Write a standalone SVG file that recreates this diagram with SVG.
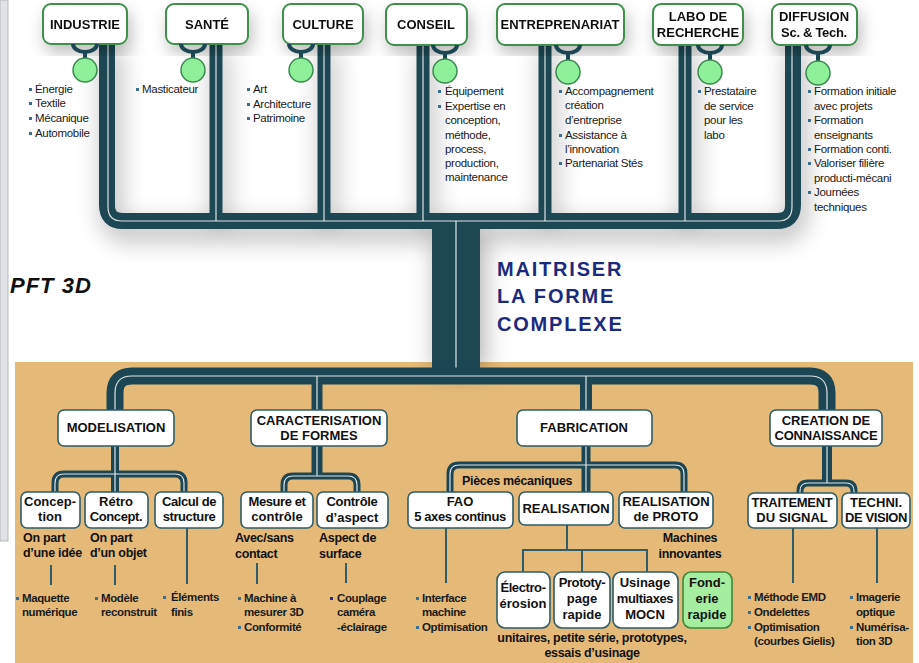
<svg xmlns="http://www.w3.org/2000/svg" width="919" height="663" viewBox="0 0 919 663">
<defs>
<filter id="sh" x="-15%" y="-15%" width="130%" height="140%">
<feDropShadow dx="4" dy="10" stdDeviation="12" flood-color="#000" flood-opacity="0.32"/>
</filter>
<filter id="sh2" x="-15%" y="-15%" width="130%" height="140%">
<feDropShadow dx="3" dy="8" stdDeviation="8" flood-color="#000" flood-opacity="0.25"/>
</filter>
</defs>
<style>
.pipe{fill:none;stroke:#1c4653}
.hl{fill:none;stroke:#ffffff;stroke-width:1.2;opacity:0.85}
.tb{fill:#ffffff;stroke:#3f8f4d;stroke-width:2}
.mb{fill:#ffffff;stroke:#2d5c68;stroke-width:1.6}
.t{font-family:"Liberation Sans",Arial,sans-serif;font-weight:bold;fill:#111;text-anchor:middle;font-size:13px}
.b{font-family:"Liberation Sans",Arial,sans-serif;font-size:11.5px;fill:#1a1a1a;letter-spacing:-0.3px}
.bb{font-family:"Liberation Sans",Arial,sans-serif;font-size:11.5px;font-weight:bold;fill:#1a1a1a;letter-spacing:-0.4px}
.an{font-family:"Liberation Sans",Arial,sans-serif;font-size:12.5px;font-weight:bold;fill:#111;letter-spacing:-0.3px}
.sq{fill:#3b6d8c}
.ln{stroke:#2f5d69;stroke-width:2;fill:none}
.circ{fill:#8ff09a;stroke:#3b8a50;stroke-width:1.5}
.arc{fill:none;stroke:#1c4653;stroke-width:4}
</style>
<rect x="0" y="0" width="919" height="663" fill="#ffffff"/>
<rect x="0" y="0" width="8" height="541" fill="#dfe3e6" stroke="#b5babd" stroke-width="1"/>
<rect x="15" y="362" width="898" height="301" fill="#e5ba78"/>

<g id="connectors">
<g filter="url(#sh)">
<path class="pipe" stroke-width="16" d="M 107 40 L 107 205 Q 107 221 123 221 L 777 221 Q 793 221 793 205 L 793 40"/>
<path class="pipe" stroke-width="13" d="M 216 40 V 222 M 324 40 V 222 M 423 40 V 222 M 545 40 V 222 M 685 40 V 222"/>
<rect x="432" y="221" width="48" height="141" fill="#1c4653"/>
</g>
<rect x="432" y="360" width="48" height="18" fill="#1c4653"/>
<path class="hl" d="M 108 44 L 108 207 Q 108 221 122 221 L 778 221 Q 792 221 792 207 L 792 44"/>
<path class="hl" d="M 216 44 V 221 M 324 44 V 221 M 423 44 V 221 M 545 44 V 221 M 685 44 V 221 M 456 221 V 376"/>

<path class="pipe" stroke-width="17" d="M 115 412 L 115 393 Q 115 376 132 376 L 810 376 Q 827 376 827 393 L 827 412"/>
<path class="pipe" stroke-width="11" d="M 317 376 V 412"/>
<path class="pipe" stroke-width="12" d="M 586 376 V 412"/>
<path class="hl" d="M 115 412 L 115 393 Q 115 376 132 376 L 810 376 Q 827 376 827 393 L 827 412 M 317 376 V 412 M 586 376 V 412"/>

<path class="pipe" stroke-width="8" d="M 115 446 V 494"/>
<path class="pipe" stroke-width="7" d="M 55 494 L 55 483 Q 55 474 64 474 L 175 474 Q 184 474 184 483 L 184 494"/>
<path class="pipe" stroke-width="11" d="M 317 446 V 477"/>
<path class="pipe" stroke-width="7" d="M 284 494 L 284 485 Q 284 476 293 476 L 348 476 Q 357 476 357 485 L 357 494"/>
<path class="pipe" stroke-width="9" d="M 586 446 V 493"/>
<path class="pipe" stroke-width="7" d="M 450 493 L 450 474 Q 450 465 459 465 L 675 465 Q 684 465 684 474 L 684 493"/>
<path class="pipe" stroke-width="10" d="M 827 446 V 484"/>
<path class="pipe" stroke-width="7" d="M 800 494 L 800 491 Q 800 483 808 483 L 846 483 Q 854 483 854 491 L 854 494"/>
<path class="hl" stroke-width="1" d="M 115 446 V 494 M 55 494 L 55 483 Q 55 474 64 474 L 175 474 Q 184 474 184 483 L 184 494 M 317 446 V 476 M 284 494 L 284 485 Q 284 476 293 476 L 348 476 Q 357 476 357 485 L 357 494 M 586 446 V 493 M 450 493 L 450 474 Q 450 465 459 465 L 675 465 Q 684 465 684 474 L 684 493 M 827 446 V 483 M 800 494 L 800 491 Q 800 483 808 483 L 846 483 Q 854 483 854 491 L 854 494"/>

<path class="ln" d="M 51 565 V 585 M 115 565 V 585 M 187 528 V 584 M 257 563 V 584 M 346 563 V 583 M 446 528 V 583 M 793 528 V 583 M 877 528 V 583"/>
<path class="ln" d="M 567 525 V 550 M 523 572 V 550 H 647 V 572 M 582 550 V 572"/>
</g>

<g id="top-nodes" filter="url(#sh2)">
<g id="n-industrie"><rect class="tb" x="43" y="4" width="84" height="40" rx="8"/><text class="t" x="85" y="29">INDUSTRIE</text></g>
<g id="n-sante"><rect class="tb" x="166" y="4" width="82" height="40" rx="8"/><text class="t" x="207" y="29">SANTÉ</text></g>
<g id="n-culture"><rect class="tb" x="283" y="4" width="80" height="40" rx="8"/><text class="t" x="323" y="29">CULTURE</text></g>
<g id="n-conseil"><rect class="tb" x="386" y="4" width="81" height="41" rx="8"/><text class="t" x="426" y="29">CONSEIL</text></g>
<g id="n-entre"><rect class="tb" x="497" y="4" width="127" height="41" rx="8"/><text class="t" x="560" y="29">ENTREPRENARIAT</text></g>
<g id="n-labo"><rect class="tb" x="653" y="4" width="90" height="41" rx="8"/><text class="t" x="698" y="21">LABO DE</text><text class="t" x="698" y="37">RECHERCHE</text></g>
<g id="n-diff"><rect class="tb" x="772" y="4" width="85" height="41" rx="8"/><text class="t" x="814" y="21">DIFFUSION</text><text class="t" x="814" y="37" letter-spacing="-0.3">Sc. &amp; Tech.</text></g>
</g>

<g id="circles">
<path class="arc" d="M 73 44 A 12 8 0 0 0 97 44 M 85 52 V 58"/><circle class="circ" cx="85" cy="70" r="12"/>
<path class="arc" d="M 181 44 A 12 8 0 0 0 205 44 M 193 52 V 58"/><circle class="circ" cx="193" cy="70" r="12"/>
<path class="arc" d="M 289 44 A 12 8 0 0 0 313 44 M 301 52 V 58"/><circle class="circ" cx="301" cy="70" r="12"/>
<path class="arc" d="M 433 45 A 12 8 0 0 0 457 45 M 445 53 V 59"/><circle class="circ" cx="445" cy="71" r="12"/>
<path class="arc" d="M 556 45 A 12 8 0 0 0 580 45 M 568 53 V 60"/><circle class="circ" cx="568" cy="72" r="12"/>
<path class="arc" d="M 698 45 A 12 8 0 0 0 722 45 M 710 53 V 60"/><circle class="circ" cx="710" cy="72" r="12"/>
<path class="arc" d="M 806 45 A 12 8 0 0 0 830 45 M 818 53 V 61"/><circle class="circ" cx="818" cy="73" r="12"/>
</g>

<g id="top-lists">
<rect class="sq" x="29" y="88" width="3" height="3"/><rect class="sq" x="29" y="102" width="3" height="3"/><rect class="sq" x="29" y="117" width="3" height="3"/><rect class="sq" x="29" y="132" width="3" height="3"/>
<text class="b" x="35" y="93">Énergie</text><text class="b" x="35" y="107">Textile</text><text class="b" x="35" y="122">Mécanique</text><text class="b" x="35" y="137">Automobile</text>
<rect class="sq" x="136" y="88" width="3" height="3"/><text class="b" x="142" y="93">Masticateur</text>
<rect class="sq" x="247" y="88" width="3" height="3"/><rect class="sq" x="247" y="103" width="3" height="3"/><rect class="sq" x="247" y="117" width="3" height="3"/>
<text class="b" x="253" y="93">Art</text><text class="b" x="253" y="108">Architecture</text><text class="b" x="253" y="122">Patrimoine</text>
<rect class="sq" x="438" y="90" width="3" height="3"/><rect class="sq" x="438" y="105" width="3" height="3"/>
<text class="b" x="445" y="95">Équipement</text><text class="b" x="445" y="110">Expertise en</text><text class="b" x="445" y="124">conception,</text><text class="b" x="445" y="139">méthode,</text><text class="b" x="445" y="153">process,</text><text class="b" x="445" y="167">production,</text><text class="b" x="445" y="181">maintenance</text>
<rect class="sq" x="559" y="90" width="3" height="3"/><rect class="sq" x="559" y="134" width="3" height="3"/><rect class="sq" x="559" y="162" width="3" height="3"/>
<text class="b" x="565" y="95">Accompagnement</text><text class="b" x="565" y="109">création</text><text class="b" x="565" y="124">d’entreprise</text><text class="b" x="565" y="139">Assistance à</text><text class="b" x="565" y="153">l’innovation</text><text class="b" x="565" y="167">Partenariat Stés</text>
<rect class="sq" x="698" y="90" width="3" height="3"/>
<text class="b" x="704" y="95">Prestataire</text><text class="b" x="704" y="110">de service</text><text class="b" x="704" y="124">pour les</text><text class="b" x="704" y="139">labo</text>
<rect class="sq" x="808" y="90" width="3" height="3"/><rect class="sq" x="808" y="119" width="3" height="3"/><rect class="sq" x="808" y="148" width="3" height="3"/><rect class="sq" x="808" y="162" width="3" height="3"/><rect class="sq" x="808" y="191" width="3" height="3"/>
<text class="b" x="814" y="95">Formation initiale</text><text class="b" x="814" y="110">avec projets</text><text class="b" x="814" y="124">Formation</text><text class="b" x="814" y="139">enseignants</text><text class="b" x="814" y="153">Formation conti.</text><text class="b" x="814" y="167">Valoriser filière</text><text class="b" x="814" y="182">producti-mécani</text><text class="b" x="814" y="196">Journées</text><text class="b" x="814" y="211">techniques</text>
</g>

<g id="titles">
<text x="10" y="293" font-family="Liberation Sans,Arial,sans-serif" font-size="22" font-weight="bold" font-style="italic" letter-spacing="1" fill="#111">PFT 3D</text>
<g font-family="Liberation Sans,Arial,sans-serif" font-size="20" font-weight="bold" fill="#1c2a7e" letter-spacing="1.8">
<text x="497" y="276">MAITRISER</text><text x="497" y="303">LA FORME</text><text x="497" y="331">COMPLEXE</text>
</g>
</g>

<g id="mid-nodes">
<g id="n-model"><rect class="mb" x="58" y="410" width="116" height="36" rx="6"/><text class="t" x="116" y="432">MODELISATION</text></g>
<g id="n-carac"><rect class="mb" x="251" y="410" width="136" height="36" rx="6"/><text class="t" x="319" y="425">CARACTERISATION</text><text class="t" x="319" y="440">DE FORMES</text></g>
<g id="n-fab"><rect class="mb" x="517" y="410" width="135" height="36" rx="6"/><text class="t" x="584" y="432">FABRICATION</text></g>
<g id="n-crea"><rect class="mb" x="770" y="410" width="112" height="36" rx="6"/><text class="t" x="826" y="425" font-size="12.5">CREATION DE</text><text class="t" x="826" y="440" font-size="12.5" letter-spacing="-0.2">CONNAISSANCE</text></g>
</g>

<g id="sub-nodes">
<g id="n-concep"><rect class="mb" x="21" y="492" width="59" height="36" rx="6"/><text class="t" x="50" y="506">Concep-</text><text class="t" x="50" y="521">tion</text></g>
<g id="n-retro"><rect class="mb" x="85" y="492" width="63" height="36" rx="6"/><text class="t" x="116" y="506">Rétro</text><text class="t" x="116" y="521" letter-spacing="-0.4">Concept.</text></g>
<g id="n-calcul"><rect class="mb" x="155" y="492" width="68" height="36" rx="6" stroke="#9a5a2a"/><text class="t" x="189" y="506" letter-spacing="-0.4">Calcul de</text><text class="t" x="189" y="521" letter-spacing="-0.4">structure</text></g>
<g id="n-mesure"><rect class="mb" x="241" y="492" width="72" height="36" rx="6"/><text class="t" x="277" y="506" letter-spacing="-0.4">Mesure et</text><text class="t" x="277" y="521">contrôle</text></g>
<g id="n-controle"><rect class="mb" x="317" y="492" width="71" height="36" rx="6"/><text class="t" x="352" y="506" letter-spacing="-0.3">Contrôle</text><text class="t" x="352" y="522">d’aspect</text></g>
<g id="n-fao"><rect class="mb" x="408" y="492" width="105" height="36" rx="6"/><text class="t" x="460" y="506">FAO</text><text class="t" x="460" y="521" letter-spacing="-0.4">5 axes continus</text></g>
<g id="n-real"><rect class="mb" x="519" y="492" width="94" height="33" rx="6"/><text class="t" x="566" y="513" font-size="12.5">REALISATION</text></g>
<g id="n-proto"><rect class="mb" x="619" y="492" width="94" height="36" rx="6"/><text class="t" x="666" y="506" font-size="12.5">REALISATION</text><text class="t" x="666" y="521">de PROTO</text></g>
<g id="n-trait"><rect class="mb" x="748" y="493" width="89" height="35" rx="6"/><text class="t" x="792" y="507" font-size="12.5" letter-spacing="-0.3">TRAITEMENT</text><text class="t" x="792" y="522" font-size="12.5">DU SIGNAL</text></g>
<g id="n-techni"><rect class="mb" x="842" y="493" width="68" height="35" rx="6"/><text class="t" x="876" y="507" font-size="12.5">TECHNI.</text><text class="t" x="876" y="522" font-size="12.5" letter-spacing="-0.4">DE VISION</text></g>
</g>

<g id="real-nodes">
<g id="n-electro"><rect class="mb" x="497" y="572" width="53" height="56" rx="8"/><text class="t" x="523" y="592" letter-spacing="-0.4">Électro-</text><text class="t" x="523" y="608">érosion</text></g>
<g id="n-prototy"><rect class="mb" x="554" y="572" width="56" height="56" rx="8"/><text class="t" x="582" y="587" letter-spacing="-0.4">Prototy-</text><text class="t" x="582" y="603">page</text><text class="t" x="582" y="619">rapide</text></g>
<g id="n-usinage"><rect class="mb" x="613" y="572" width="65" height="56" rx="8"/><text class="t" x="645" y="587">Usinage</text><text class="t" x="645" y="603" letter-spacing="-0.4">multiaxes</text><text class="t" x="645" y="619">MOCN</text></g>
<g id="n-fonderie"><rect x="683" y="572" width="49" height="56" rx="8" fill="#a6ee9f" stroke="#3a8a3a" stroke-width="1.6"/><text class="t" x="707" y="587">Fond-</text><text class="t" x="707" y="603">erie</text><text class="t" x="707" y="619">rapide</text></g>
</g>

<g id="annotations">
<text class="an" x="462" y="485" font-size="12" letter-spacing="0.2">Pièces mécaniques</text>
<text class="an" x="23" y="542">On part</text><text class="an" x="23" y="557">d’une idée</text>
<text class="an" x="90" y="542">On part</text><text class="an" x="90" y="557">d’un objet</text>
<text class="an" x="235" y="542" font-size="13">Avec/sans</text><text class="an" x="235" y="558" font-size="13">contact</text>
<text class="an" x="319" y="542" font-size="13">Aspect de</text><text class="an" x="319" y="558" font-size="13">surface</text>
<text class="an" x="690" y="542" text-anchor="middle">Machines</text><text class="an" x="690" y="558" text-anchor="middle">innovantes</text>
<text class="an" x="592" y="642" text-anchor="middle" font-size="12">unitaires, petite série, prototypes,</text>
<text class="an" x="592" y="657" text-anchor="middle" font-size="12">essais d’usinage</text>
</g>

<g id="bottom-lists">
<rect class="sq" x="16" y="597" width="3" height="3"/><text class="bb" x="22" y="602">Maquette</text><text class="bb" x="22" y="616">numérique</text>
<rect class="sq" x="95" y="597" width="3" height="3"/><text class="bb" x="101" y="602">Modèle</text><text class="bb" x="101" y="616">reconstruit</text>
<rect class="sq" x="163" y="596" width="3" height="3"/><text class="bb" x="171" y="601" font-size="12.5">Éléments</text><text class="bb" x="171" y="616" font-size="12.5">finis</text>
<rect class="sq" x="238" y="597" width="3" height="3"/><rect class="sq" x="238" y="626" width="3" height="3"/><text class="bb" x="244" y="602">Machine à</text><text class="bb" x="244" y="616">mesurer 3D</text><text class="bb" x="244" y="631">Conformité</text>
<rect x="330" y="597" width="3" height="3" fill="#2a2a8a"/><text class="bb" x="337" y="602">Couplage</text><text class="bb" x="337" y="616">caméra</text><text class="bb" x="337" y="631">-éclairage</text>
<rect class="sq" x="416" y="597" width="3" height="3"/><rect class="sq" x="416" y="626" width="3" height="3"/><text class="bb" x="422" y="602">Interface</text><text class="bb" x="422" y="616">machine</text><text class="bb" x="422" y="631">Optimisation</text>
<rect class="sq" x="748" y="596" width="3" height="3"/><rect class="sq" x="748" y="611" width="3" height="3"/><rect class="sq" x="748" y="626" width="3" height="3"/><text class="bb" x="754" y="601">Méthode EMD</text><text class="bb" x="754" y="616">Ondelettes</text><text class="bb" x="754" y="631">Optimisation</text><text class="bb" x="754" y="645">(courbes Gielis)</text>
<rect class="sq" x="850" y="596" width="3" height="3"/><rect class="sq" x="850" y="626" width="3" height="3"/><text class="bb" x="856" y="601">Imagerie</text><text class="bb" x="856" y="616">optique</text><text class="bb" x="856" y="631">Numérisa-</text><text class="bb" x="856" y="645">tion 3D</text>
</g>
</svg>
